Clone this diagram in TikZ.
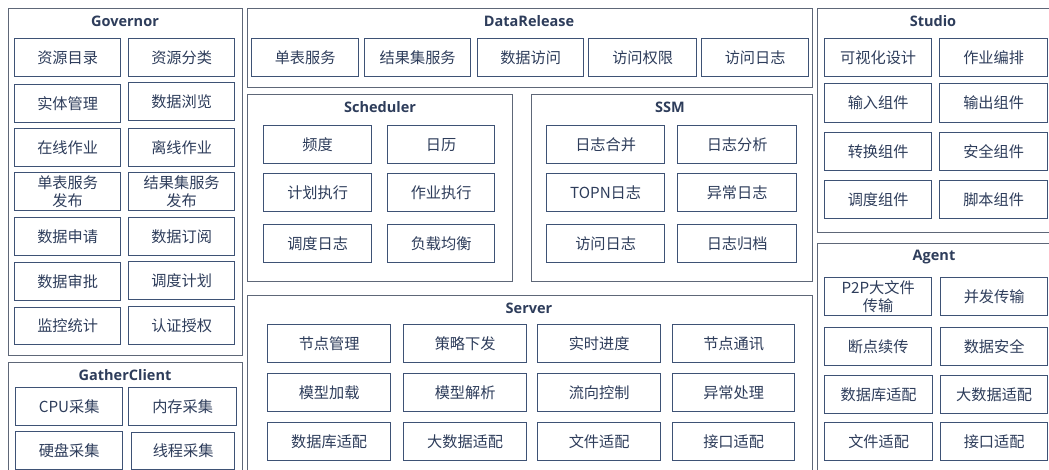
\documentclass[tikz,border=0pt]{standalone}
\usepackage{fontspec}
\newfontfamily\cjkfont{Noto Sans CJK SC}
\newfontfamily\titlefont{Open Sans}
\definecolor{frameline}{HTML}{5E6778}
\definecolor{cellline}{HTML}{3E5275}
\definecolor{inktext}{HTML}{2E3D5B}
% one function box: name, left, top, width, height, text
\newcommand\cellbox[6]{\node[cell,minimum width=#4,minimum height=#5] (#1) at (#2,#3) {#6};}
% one module frame: name, left, top, width, height
\newcommand\panelbox[5]{\node[panel,minimum width=#4,minimum height=#5] (#1) at (#2,#3) {};}
\begin{document}
\begin{tikzpicture}[x=1pt,y=-1pt,
  panel/.style={draw=frameline,line width=1.3pt,anchor=north west,inner sep=0pt},
  paneltitle/.style={font=\titlefont\bfseries\fontsize{14.5}{16}\selectfont,text=inktext,inner sep=0pt},
  cell/.style={draw=cellline,line width=1.3pt,anchor=north west,inner sep=0pt,align=center,
    text=inktext,font=\cjkfont\fontsize{15.2}{18}\selectfont},
]
\useasboundingbox (0,0) rectangle (1049,470);
\fill[white] (0,0) rectangle (1049,470);
\clip (0,0) rectangle (1049,470);

% module frames
\panelbox{governor}{8}{8}{234}{347}
\panelbox{gather}{8}{362}{234}{125}
\panelbox{release}{247}{8}{565}{79}
\panelbox{scheduler}{247}{94}{265}{187}
\panelbox{ssm}{531}{94}{281}{187}
\panelbox{server}{247}{295}{565}{190}
\panelbox{studio}{817}{8}{245}{224}
\panelbox{agent}{817}{243}{245}{245}

% module titles
\node[paneltitle] (tgov) at (125,21) {Governor};
\node[paneltitle] (tgat) at (125,375) {GatherClient};
\node[paneltitle] (trel) at (529,21) {DataRelease};
\node[paneltitle] (tsch) at (380,107) {Scheduler};
\node[paneltitle] (tssm) at (670,107) {SSM};
\node[paneltitle] (tsrv) at (529,308) {Server};
\node[paneltitle] (tstu) at (933,21) {Studio};
\node[paneltitle] (tage) at (934,257) {Agent};

% Governor
\cellbox{g11}{14}{38}{106}{38}{资源目录}
\cellbox{g12}{128}{38}{106}{38}{资源分类}
\cellbox{g21}{14}{84}{106}{38}{实体管理}
\cellbox{g22}{128}{82}{106}{38}{数据浏览}
\cellbox{g31}{14}{128}{106}{38}{在线作业}
\cellbox{g32}{128}{128}{106}{38}{离线作业}
\cellbox{g41}{14}{172}{106}{38}{单表服务\\发布}
\cellbox{g42}{128}{172}{106}{38}{结果集服务\\发布}
\cellbox{g51}{14}{217}{106}{38}{数据申请}
\cellbox{g52}{128}{217}{106}{38}{数据订阅}
\cellbox{g61}{14}{262}{106}{38}{数据审批}
\cellbox{g62}{128}{261}{106}{38}{调度计划}
\cellbox{g71}{14}{307}{106}{37}{监控统计}
\cellbox{g72}{128}{306}{106}{38}{认证授权}

% GatherClient
\cellbox{c11}{15}{387}{107}{38}{CPU采集}
\cellbox{c12}{128}{387}{108}{38}{内存采集}
\cellbox{c21}{15}{431}{107}{38}{硬盘采集}
\cellbox{c22}{131}{432}{103}{37}{线程采集}

% DataRelease
\cellbox{r1}{251}{38}{107}{38}{单表服务}
\cellbox{r2}{364}{38}{106}{38}{结果集服务}
\cellbox{r3}{477}{38}{106}{38}{数据访问}
\cellbox{r4}{588}{38}{108}{38}{访问权限}
\cellbox{r5}{701}{38}{107}{38}{访问日志}

% Scheduler
\cellbox{s11}{263}{125}{108}{38}{频度}
\cellbox{s12}{387}{125}{107}{38}{日历}
\cellbox{s21}{263}{173}{108}{38}{计划执行}
\cellbox{s22}{387}{173}{107}{38}{作业执行}
\cellbox{s31}{263}{224}{108}{38}{调度日志}
\cellbox{s32}{387}{224}{107}{38}{负载均衡}

% SSM
\cellbox{m11}{546}{125}{118}{38}{日志合并}
\cellbox{m12}{677}{125}{119}{38}{日志分析}
\cellbox{m21}{546}{173}{118}{38}{TOPN日志}
\cellbox{m22}{677}{173}{119}{38}{异常日志}
\cellbox{m31}{546}{224}{118}{38}{访问日志}
\cellbox{m32}{677}{224}{119}{38}{日志归档}

% Server
\cellbox{v11}{267}{324}{123}{38}{节点管理}
\cellbox{v12}{403}{324}{123}{38}{策略下发}
\cellbox{v13}{537}{324}{123}{38}{实时进度}
\cellbox{v14}{672}{324}{122}{38}{节点通讯}
\cellbox{v21}{267}{373}{123}{38}{模型加载}
\cellbox{v22}{403}{373}{123}{38}{模型解析}
\cellbox{v23}{537}{373}{123}{38}{流向控制}
\cellbox{v24}{672}{373}{122}{38}{异常处理}
\cellbox{v31}{267}{422}{123}{38}{数据库适配}
\cellbox{v32}{403}{422}{123}{38}{大数据适配}
\cellbox{v33}{537}{422}{123}{38}{文件适配}
\cellbox{v34}{672}{422}{122}{38}{接口适配}

% Studio
\cellbox{u11}{824}{38}{107}{38}{可视化设计}
\cellbox{u12}{939}{38}{108}{38}{作业编排}
\cellbox{u21}{824}{83}{107}{39}{输入组件}
\cellbox{u22}{939}{83}{108}{39}{输出组件}
\cellbox{u31}{824}{132}{107}{38}{转换组件}
\cellbox{u32}{939}{132}{108}{38}{安全组件}
\cellbox{u41}{824}{180}{107}{38}{调度组件}
\cellbox{u42}{939}{180}{108}{38}{脚本组件}

% Agent
\cellbox{a11}{824}{277}{107}{38}{P2P大文件\\传输}
\cellbox{a12}{940}{277}{107}{38}{并发传输}
\cellbox{a21}{824}{327}{107}{38}{断点续传}
\cellbox{a22}{940}{327}{107}{38}{数据安全}
\cellbox{a31}{824}{375}{108}{38}{数据库适配}
\cellbox{a32}{940}{375}{107}{38}{大数据适配}
\cellbox{a41}{824}{422}{108}{38}{文件适配}
\cellbox{a42}{940}{422}{107}{38}{接口适配}
\end{tikzpicture}
\end{document}
